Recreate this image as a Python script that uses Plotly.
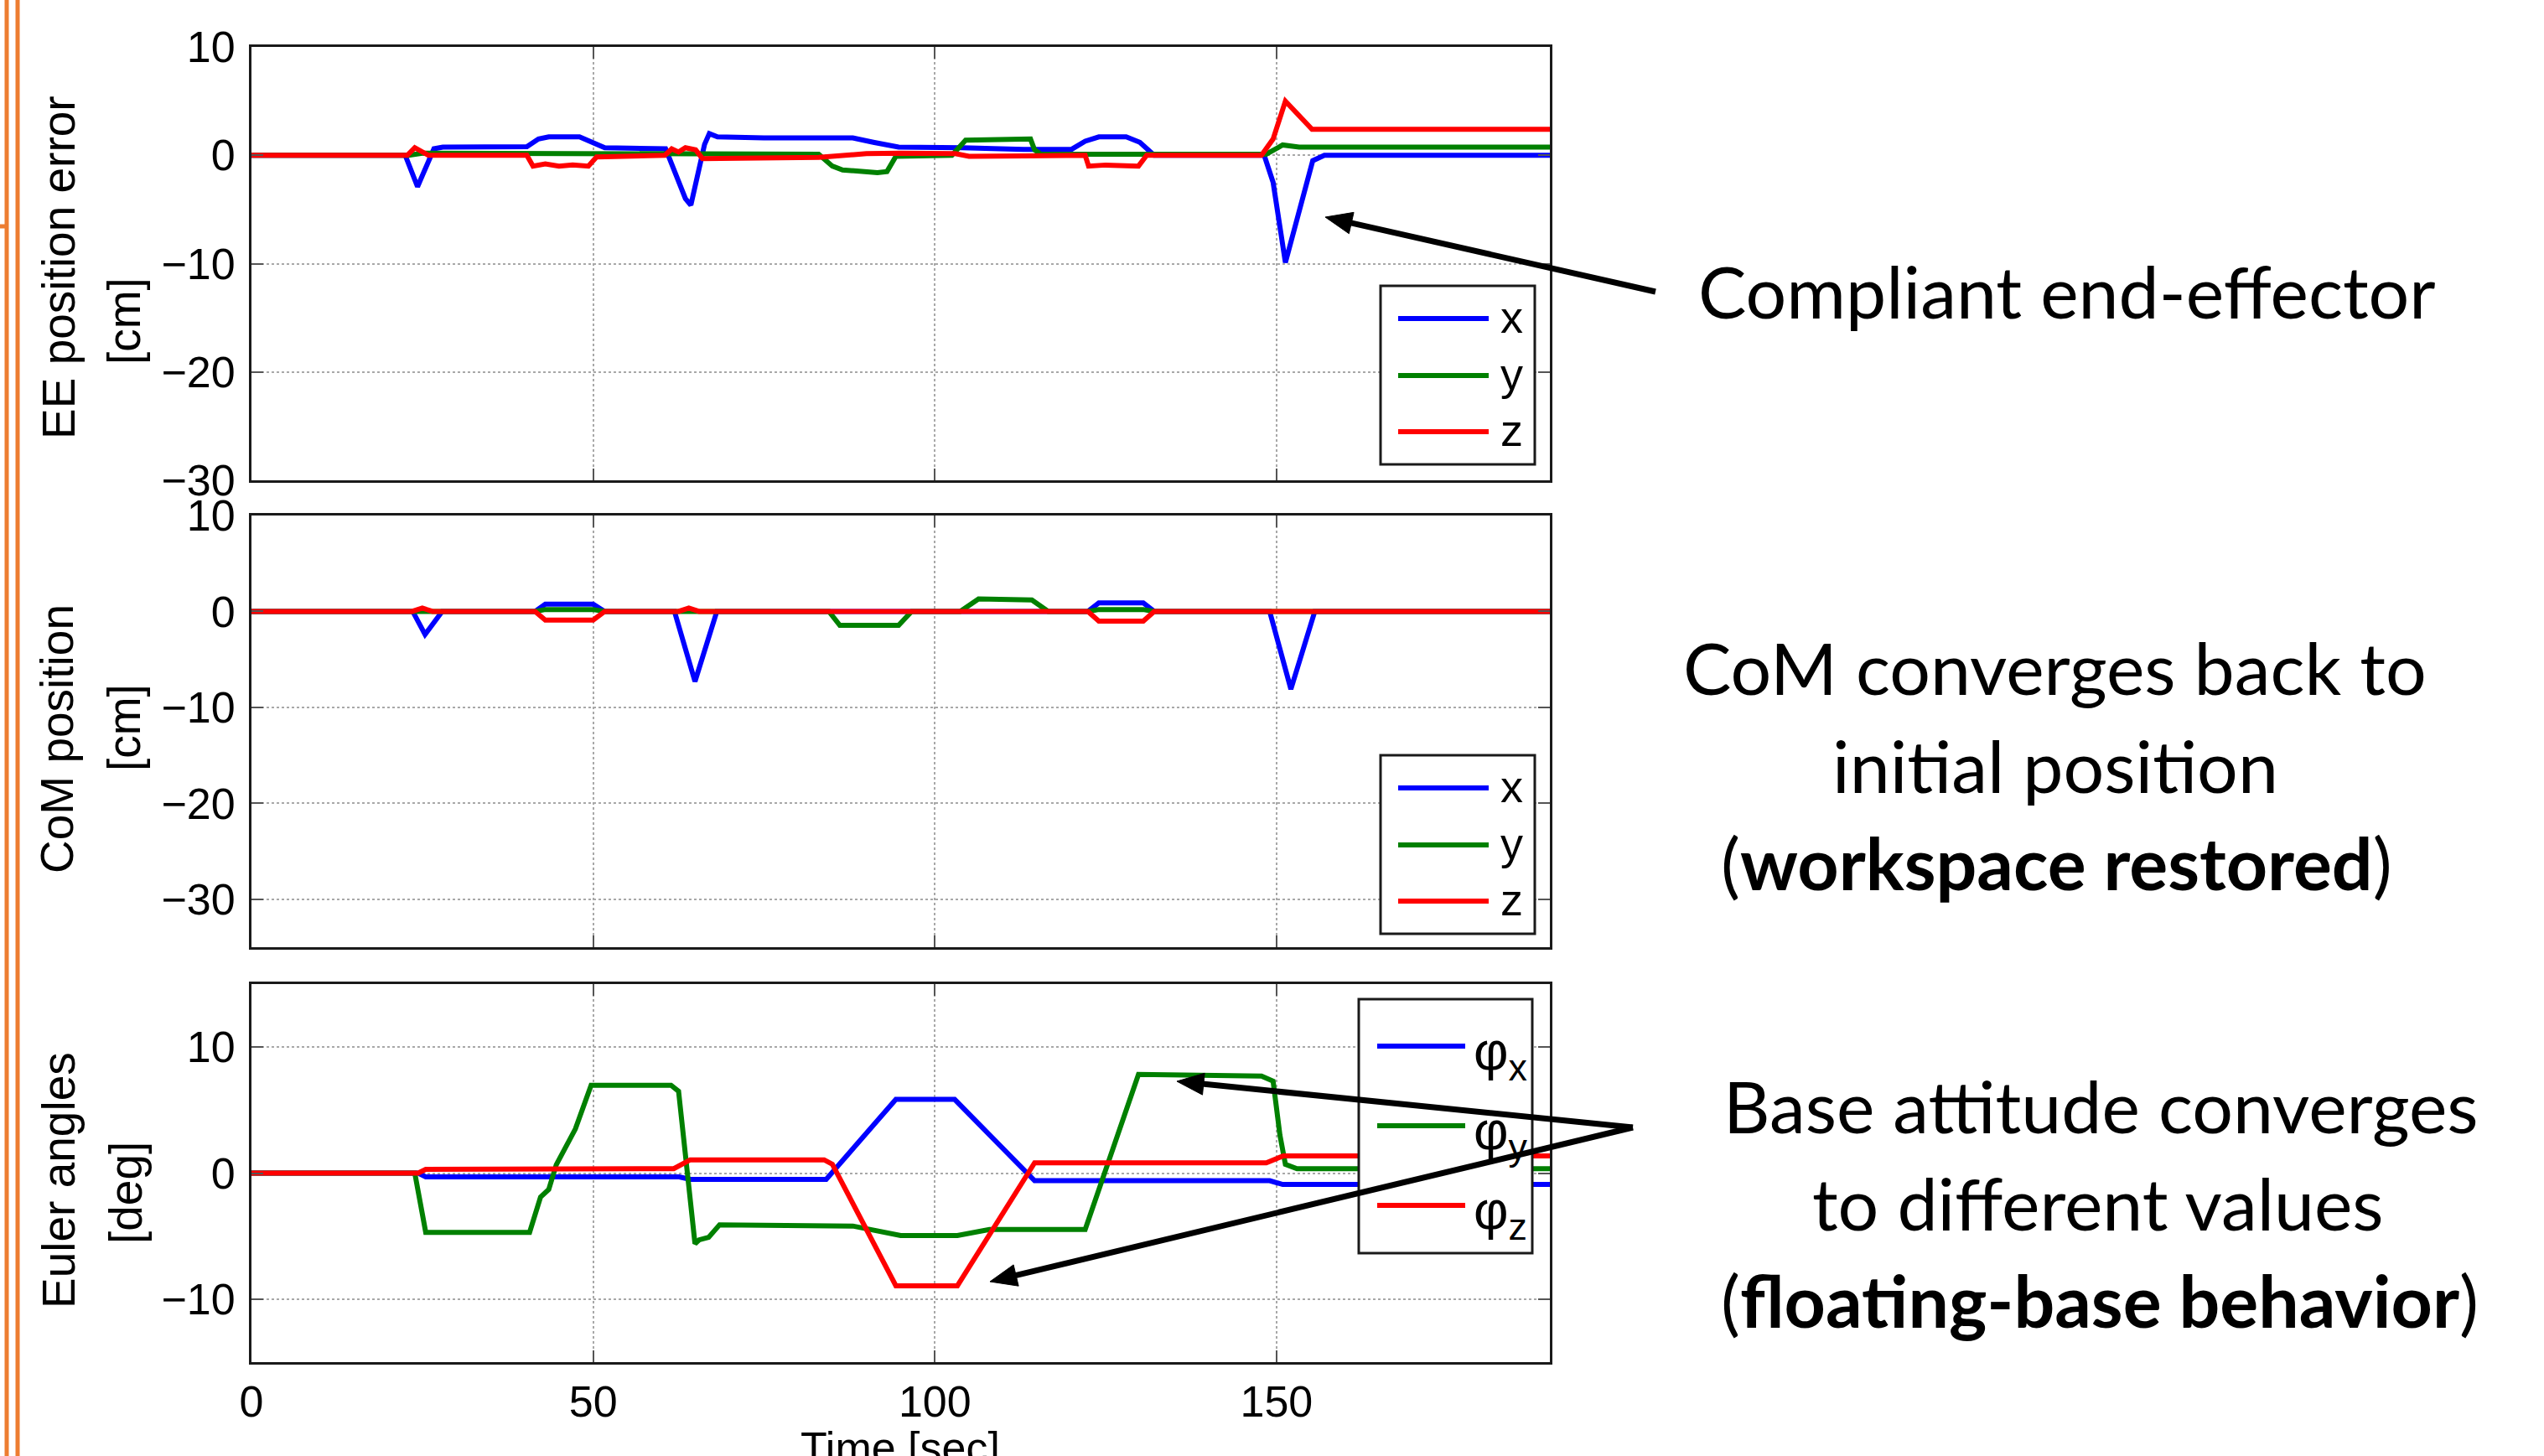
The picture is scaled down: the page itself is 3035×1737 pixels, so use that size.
import math
import plotly.graph_objects as go

W, H = 3035, 1737

# ---------------- data ----------------
# Panel 1: EE position error [cm]
ee_x_t = [0, 22.5, 24.3, 26.7, 28, 40.3, 42, 43.5, 48, 49.5, 51.7, 60.6, 62, 63.5, 64.3, 65.2, 66.3, 67, 68.2, 75, 84, 88, 91, 94.7, 104, 113, 120, 122, 124, 128, 130, 132.1, 148.2, 149.5, 151.3, 153.3, 155.3, 157, 190]
ee_x_v = [0, 0, -2.9, 0.6, 0.75, 0.8, 1.5, 1.7, 1.7, 1.3, 0.7, 0.6, -1.5, -4.0, -4.6, -2.0, 1.0, 2.0, 1.7, 1.6, 1.55, 1.6, 1.2, 0.75, 0.7, 0.55, 0.55, 1.3, 1.7, 1.7, 1.2, 0.0, 0.0, -2.5, -9.9, -5.0, -0.5, 0.0, 0.0]
ee_y_t = [0, 23, 25, 40, 50, 60, 83, 85, 86.5, 91.6, 93, 94.3, 102.5, 104.5, 114, 114.6, 115.5, 148.5, 150.9, 153.3, 190]
ee_y_v = [0, 0, 0.2, 0.2, 0.1, 0.1, 0.1, -1.0, -1.35, -1.6, -1.5, -0.1, 0.0, 1.4, 1.5, 0.5, 0.1, 0.1, 0.95, 0.75, 0.75]
ee_z_t = [0, 22.8, 23.9, 25.9, 40.3, 41.2, 43, 45, 47, 49.3, 50.5, 60.5, 61.5, 62.5, 63.5, 65, 66, 67, 83, 90, 95, 103, 105, 113, 122, 122.5, 125, 129.8, 131, 147.8, 149.5, 151.3, 153, 155.2, 190]
ee_z_v = [0, 0, 0.7, 0, 0, -1.0, -0.8, -1.0, -0.9, -1.0, -0.15, 0, 0.6, 0.3, 0.7, 0.5, -0.3, -0.3, -0.2, 0.15, 0.2, 0.15, -0.1, -0.05, 0, -1.0, -0.9, -1.0, 0, 0, 1.5, 5.0, 3.8, 2.4, 2.4]

# Panel 2: CoM position [cm]
com_x_t = [0, 23.6, 25.4, 27.9, 41.5, 43, 50, 51.7, 61.9, 64.9, 68.1, 122.4, 124, 130.5, 132.1, 149, 152.1, 155.6, 190]
com_x_v = [0, 0, -2.4, 0, 0, 0.75, 0.75, 0, 0, -7.3, 0, 0, 0.9, 0.9, 0, 0, -8.1, 0, 0]
com_y_t = [0, 41.5, 43, 50, 51.7, 84.5, 86.1, 94.7, 96.6, 103.7, 106.4, 114.2, 116.6, 122.4, 124, 130.5, 132.1, 190]
com_y_v = [0, 0, 0.2, 0.2, 0, 0, -1.45, -1.45, 0, 0, 1.3, 1.2, 0, 0, 0.2, 0.2, 0, 0]
com_z_t = [0, 23.5, 25, 26.5, 41.5, 43, 50, 51.7, 62.5, 64, 65.5, 122.4, 124, 130.5, 132.1, 190]
com_z_v = [0, 0, 0.35, 0, 0, -0.9, -0.9, 0, 0, 0.35, 0, 0, -1.0, -1.0, 0, 0]

# Panel 3: Euler angles [deg]
eul_x_t = [0, 24.4, 25.5, 62.6, 64.2, 84.1, 94.3, 102.9, 114.6, 149, 150.9, 190]
eul_x_v = [0, 0, -0.3, -0.3, -0.5, -0.5, 5.85, 5.85, -0.6, -0.6, -0.9, -0.9]
eul_y_t = [0, 23.9, 25.5, 40.7, 42.3, 43.5, 44.6, 47.4, 49.7, 61.4, 62.5, 64.9, 65.5, 66.9, 68.5, 84.6, 88, 95, 103.3, 108, 122, 129.8, 147.8, 149.5, 150.5, 151.3, 153, 190]
eul_y_v = [0, 0, -4.7, -4.7, -1.9, -1.3, 0.66, 3.5, 6.97, 6.97, 6.5, -5.6, -5.3, -5.1, -4.1, -4.1, -4.2, -4.95, -4.95, -4.47, -4.47, 7.83, 7.7, 7.3, 3.0, 0.7, 0.35, 0.35]
eul_z_t = [0, 24.4, 25.5, 61.8, 64.2, 83.8, 85, 94.3, 103.3, 114.6, 148.5, 151, 190]
eul_z_v = [0, 0, 0.3, 0.35, 1.05, 1.05, 0.7, -8.94, -8.94, 0.82, 0.82, 1.37, 1.37]

x_ticks = [0, 50, 100, 150]
ee_yticks = [10, 0, -10, -20, -30]
com_yticks = [10, 0, -10, -20, -30]
eul_yticks = [10, 0, -10]
pos_labels = ["x", "y", "z"]
ang_labels = ["φ<sub>x</sub>", "φ<sub>y</sub>", "φ<sub>z</sub>"]

BLUE, GREEN, RED = "#0000ff", "#008000", "#ff0000"
COLORS = [BLUE, GREEN, RED]

# ---------------- helpers ----------------
def pxx(x):
    return x / W

def pyy(y):
    return 1 - y / H

MFONT = "Liberation Sans, Arial, sans-serif"
SFONT = "Lato, Open Sans, sans-serif"

fig = go.Figure()

panels = [
    ("x", "y", [(ee_x_t, ee_x_v), (ee_y_t, ee_y_v), (ee_z_t, ee_z_v)]),
    ("x2", "y2", [(com_x_t, com_x_v), (com_y_t, com_y_v), (com_z_t, com_z_v)]),
    ("x3", "y3", [(eul_x_t, eul_x_v), (eul_y_t, eul_y_v), (eul_z_t, eul_z_v)]),
]
for xa, ya, series in panels:
    for (t, v), c in zip(series, COLORS):
        fig.add_trace(go.Scatter(x=t, y=v, mode="lines", xaxis=xa, yaxis=ya,
                                 line=dict(color=c, width=6), showlegend=False,
                                 hoverinfo="skip"))

X0, X1 = 300, 1849
ydoms = [(56, 573), (615, 1130), (1174, 1625)]
yranges = [[-30, 10], [-35, 10], [-15, 15]]
yticks = [ee_yticks, com_yticks, eul_yticks]

ax_common = dict(showline=True, linecolor="#1a1a1a", linewidth=3, mirror="ticks",
                 ticks="inside", ticklen=14, tickwidth=2, tickcolor="#555555",
                 showgrid=True, gridcolor="#a8a8a8", griddash="dot", gridwidth=2,
                 zeroline=False, automargin=False,
                 tickfont=dict(family=MFONT, size=52, color="black"))

layout = dict(width=W, height=H, autosize=False, margin=dict(l=0, r=0, t=0, b=0, pad=0),
              paper_bgcolor="white", plot_bgcolor="white", showlegend=False)

for i in range(3):
    xs = "" if i == 0 else str(i + 1)
    top, bot = ydoms[i]
    layout["xaxis" + xs] = dict(ax_common, domain=[pxx(X0), pxx(X1)], range=[0, 190],
                                tickvals=x_ticks, anchor="y" + xs,
                                showticklabels=(i == 2), ticklabelstandoff=0)
    layout["yaxis" + xs] = dict(ax_common, domain=[pyy(bot), pyy(top)], range=yranges[i],
                                tickvals=yticks[i], anchor="x" + xs, ticklabelstandoff=6)

fig.update_layout(**layout)

shapes = []
annotations = []

# orange slide decorations on the left
ORANGE = "#ed7d31"
for x in (8, 21):
    shapes.append(dict(type="line", xref="paper", yref="paper", x0=pxx(x), x1=pxx(x),
                       y0=0, y1=1, line=dict(color=ORANGE, width=5)))
shapes.append(dict(type="line", xref="paper", yref="paper", x0=0, x1=pxx(10),
                   y0=pyy(270), y1=pyy(270), line=dict(color=ORANGE, width=5)))

# manual legends (boxes, line samples, labels)
legends = [
    ((1647, 1831, 341, 554), (1668, 1776), [380, 448, 515], 1803, pos_labels, 54, 2),
    ((1647, 1831, 901, 1114), (1668, 1776), [940, 1008, 1075], 1803, pos_labels, 54, 2),
    ((1621, 1828, 1192, 1495), (1643, 1748), [1248, 1343, 1438], 1790, ang_labels, 64, -10),
]
for (bx0, bx1, by0, by1), (lx0, lx1), ys, tx, labels, fs, dy in legends:
    shapes.append(dict(type="rect", xref="paper", yref="paper", layer="above",
                       x0=pxx(bx0), x1=pxx(bx1), y0=pyy(by1), y1=pyy(by0),
                       fillcolor="white", line=dict(color="#1a1a1a", width=3)))
    for yy, c, lab in zip(ys, COLORS, labels):
        shapes.append(dict(type="line", xref="paper", yref="paper", layer="above",
                           x0=pxx(lx0), x1=pxx(lx1), y0=pyy(yy), y1=pyy(yy),
                           line=dict(color=c, width=6)))
        annotations.append(dict(xref="paper", yref="paper", x=pxx(tx), y=pyy(yy - dy),
                                text=lab, showarrow=False, xanchor="center", yanchor="middle",
                                font=dict(family=MFONT, size=fs, color="black")))

# y-axis titles (two lines each)
ytitles = [
    ("EE position error", 70, 319, "[cm]", 148, 383),
    ("CoM position", 68, 882, "[cm]", 148, 868),
    ("Euler angles", 70, 1408, "[deg]", 150, 1423),
]
for t1, x1, y1, t2, x2, y2 in ytitles:
    annotations.append(dict(xref="paper", yref="paper", x=pxx(x1), y=pyy(y1), text=t1,
                            textangle=-90, showarrow=False, xanchor="center", yanchor="middle",
                            font=dict(family=MFONT, size=55, color="black")))
    annotations.append(dict(xref="paper", yref="paper", x=pxx(x2), y=pyy(y2), text=t2,
                            textangle=-90, showarrow=False, xanchor="center", yanchor="middle",
                            font=dict(family=MFONT, size=55, color="black")))

# x-axis title (cut by the bottom edge, as in the reference)
annotations.append(dict(xref="paper", yref="paper", x=pxx(1074), y=pyy(1727), text="Time [sec]",
                        showarrow=False, xanchor="center", yanchor="middle",
                        font=dict(family=MFONT, size=52, color="black")))

# slide text on the right
right_text = [
    ("Compliant end-effector", 2466, 346),
    ("CoM converges back to", 2451, 796),
    ("initial position", 2452, 912),
    ("(<b>workspace restored</b>)", 2453, 1028),
    ("Base attitude converges", 2506, 1318),
    ("to different values", 2503, 1434),
    ("(<b>floating-base behavior</b>)", 2505, 1550),
]
for txt, x, y in right_text:
    annotations.append(dict(xref="paper", yref="paper", x=pxx(x), y=pyy(y), text=txt,
                            showarrow=False, xanchor="center", yanchor="middle",
                            font=dict(family=SFONT, size=86, color="black")))

# arrows drawn as shapes: (head), (tail) in pixels
arrows = [((1581, 259), (1975, 348)),
          ((1404, 1290), (1948, 1345)),
          ((1181, 1529), (1948, 1345))]
HL, HW = 32, 13
for (hx, hy), (tx_, ty_) in arrows:
    dx, dy = hx - tx_, hy - ty_
    L = math.hypot(dx, dy)
    ux, uy = dx / L, dy / L
    bx, by = hx - ux * HL, hy - uy * HL
    nx, ny = -uy, ux
    shapes.append(dict(type="line", xref="paper", yref="paper", layer="above",
                       x0=pxx(tx_), y0=pyy(ty_), x1=pxx(bx + ux * 4), y1=pyy(by + uy * 4),
                       line=dict(color="black", width=7)))
    p1 = (bx + nx * HW, by + ny * HW)
    p2 = (bx - nx * HW, by - ny * HW)
    path = "M {:.6f},{:.6f} L {:.6f},{:.6f} L {:.6f},{:.6f} Z".format(
        pxx(hx), pyy(hy), pxx(p1[0]), pyy(p1[1]), pxx(p2[0]), pyy(p2[1]))
    shapes.append(dict(type="path", xref="paper", yref="paper", layer="above", path=path,
                       fillcolor="black", line=dict(color="black", width=1)))

fig.update_layout(shapes=shapes, annotations=annotations)

fig.write_html("out.html", config={"displayModeBar": False},
               post_script="document.body.style.margin='0px';document.body.style.overflow='hidden';")
